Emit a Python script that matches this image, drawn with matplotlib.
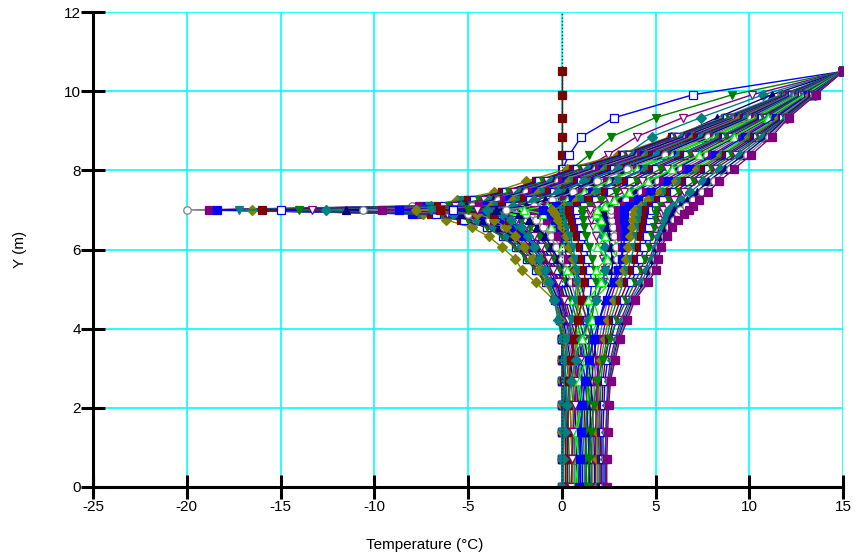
import matplotlib
matplotlib.use('Agg')
import matplotlib.pyplot as plt

# node heights (m), same for every profile
depth = [0, 0.72, 1.38, 2.06, 2.68, 3.22, 3.74, 4.22, 4.72, 5.17, 5.47, 5.77, 6.06, 6.33,
         6.56, 6.75, 6.9, 7.0, 7.1, 7.25, 7.45, 7.72, 8.04, 8.39, 8.85, 9.33, 9.91, 10.5]

# temperature profiles (deg C)
prof_00 = [0, 0, 0, 0, 0, 0, 0, 0, 0, 0, 0, 0, 0, 0, 0, 0, 0, 0, 0, 0, 0, 0, 0, 0, 0, 0, 0, 0]
prof_01 = [0, 0, 0, 0, 0, 0, 0, 0, 0, 0, 0, 0, 0, 0, 0, 0, 0, 0, 0, 0, 0, 0,
           0.05, 0.4, 1.05, 2.8, 7.0, 15]
prof_02 = [0, 0, 0, 0, 0, 0, 0, 0, 0, 0, 0, 0, 0, 0, 0, 0, 0, 0, 0, 0, 0,
           0.1, 0.55, 1.45, 2.65, 5.0, 9.1, 15]
prof_03 = [0, 0, 0, 0, 0, 0, 0, 0, 0, 0, 0, 0, 0, 0, 0, 0, 0, 0, 0,
           0.05, 0.15, 0.45, 1.2, 2.45, 4.0, 6.45, 10.15, 15]
prof_04 = [0, 0, 0, 0, 0, 0, 0, 0, 0, 0, 0, 0, 0, 0, 0, 0, 0, 0,
           0.05, 0.1, 0.3, 0.9, 2.0, 3.4, 4.8, 7.4, 10.75, 15]
prof_05 = [0, 0, 0, 0, 0, 0, 0, 0, 0, 0, 0, 0, 0, 0, 0, 0, 0,
           0, 0.1, 0.3, 0.7, 1.5, 2.8, 4.4, 6.1, 8.3, 11.2, 15]
prof_06 = [0, 0, 0, 0, 0, 0, 0, 0, 0, 0, 0, 0, -0.1, -0.4, -1.2, -3.0, -7.8,
           -20.0, -8.0, -3.2, -1.0, 0.1, 1.3, 3.3, 5.9, 8.6, 11.7, 15]
prof_07 = [0, 0, 0, 0, 0, 0, 0, 0, 0, -0.05, -0.1, -0.3, -0.6, -1.2, -2.4, -4.4, -7.6,
           -18.8, -7.6, -4.6, -2.0, -0.3, 1.3, 3.4, 6.0, 8.7, 11.8, 15]
prof_08 = [1.2, 1.4, 1.2, 1.5, 1.3, 1.7, 1.4, 2.0, 1.7, 2.6, 2.2, 3.0, 2.6, 3.4, 3.0, 3.7, 3.3,
           3.6, 3.9, 4.3, 5.0, 5.9, 7.0, 8.3, 9.9, 11.5, 13.2, 15]
prof_09 = [0, 0, 0, 0, 0, 0, 0, 0, -0.05, -0.2, -0.4, -0.7, -1.2, -2.0, -3.2, -5.2, -8.0,
           -18.4, -7.2, -5.0, -2.8, -0.8, 1.1, 3.3, 6.0, 8.8, 11.8, 15]
prof_10 = [0, 0, 0, 0, 0, 0, 0, -0.05, -0.4, -1.4, -2.1, -2.5, -3.2, -3.9, -4.8, -6.2, -7.4,
           -16.5, -7.0, -5.6, -3.6, -1.9, 0.3, 3.0, 5.8, 8.7, 11.8, 15]
prof_11 = [0, 0, 0, 0, 0, 0, 0, -0.02, -0.15, -0.6, -1.0, -1.4, -2.0, -2.8, -3.8, -5.5, -7.6,
           -17.2, -7.1, -5.3, -3.2, -1.3, 0.7, 3.2, 5.9, 8.7, 11.8, 15]
prof_12 = [0.2, 0.2, 0.2, 0.15, 0.1, 0.05, 0.0, -0.1, -0.3, -0.8, -1.3, -1.8, -2.4, -3.1, -4.0, -5.4, -7.0,
           -16.0, -6.6, -5.0, -3.2, -1.4, 0.6, 3.2, 5.9, 8.8, 11.9, 15]
prof_13 = [0.3, 0.3, 0.28, 0.22, 0.18, 0.1, 0.02, -0.1, -0.35, -0.85, -1.35, -1.85, -2.45, -3.15, -4.0, -5.2, -6.7,
           -15.0, -6.3, -4.7, -3.0, -1.2, 0.8, 3.3, 6.0, 8.8, 11.9, 15]
prof_14 = [0.4, 0.4, 0.35, 0.3, 0.25, 0.15, 0.05, -0.1, -0.4, -0.9, -1.4, -1.9, -2.5, -3.2, -4.0, -5.0, -6.4,
           -14.0, -6.0, -4.4, -2.8, -1.0, 1.0, 3.5, 6.1, 8.9, 11.9, 15]
prof_15 = [0.55, 0.55, 0.5, 0.45, 0.38, 0.25, 0.12, -0.05, -0.35, -0.8, -1.25, -1.75, -2.35, -3.05, -3.8, -4.75, -6.1,
           -13.3, -5.7, -4.15, -2.55, -0.8, 1.2, 3.6, 6.2, 9.0, 12.0, 15]
prof_16 = [0.7, 0.7, 0.65, 0.6, 0.5, 0.35, 0.2, 0.0, -0.3, -0.7, -1.1, -1.6, -2.2, -2.9, -3.6, -4.5, -5.8,
           -12.6, -5.4, -3.9, -2.3, -0.6, 1.4, 3.8, 6.4, 9.1, 12.0, 15]
prof_17 = [0.8, 0.8, 0.75, 0.7, 0.6, 0.45, 0.28, 0.08, -0.2, -0.6, -1.0, -1.45, -2.0, -2.65, -3.35, -4.2, -5.4,
           -11.5, -5.1, -3.65, -2.1, -0.4, 1.6, 3.9, 6.5, 9.2, 12.0, 15]
prof_18 = [0.9, 0.9, 0.85, 0.8, 0.7, 0.55, 0.35, 0.15, -0.1, -0.5, -0.9, -1.3, -1.8, -2.4, -3.1, -3.9, -5.0,
           -10.6, -4.8, -3.4, -1.9, -0.2, 1.8, 4.1, 6.7, 9.3, 12.1, 15]
prof_19 = [1.0, 1.0, 0.95, 0.9, 0.8, 0.65, 0.45, 0.22, -0.05, -0.4, -0.75, -1.15, -1.65, -2.2, -2.85, -3.6, -4.6,
           -9.6, -4.4, -3.1, -1.6, 0.0, 2.0, 4.2, 6.8, 9.4, 12.1, 15]
prof_20 = [1.5, 1.7, 1.4, 1.8, 1.3, 1.7, 1.1, 1.5, 0.8, 1.3, 0.4, 0.9, -0.1, 0.5, -0.8, 0.0, -1.3,
           -2.5, -1.1, 0.0, 1.0, 2.3, 3.8, 5.7, 8.0, 10.2, 12.6, 15]
prof_21 = [1.1, 1.1, 1.05, 1.0, 0.9, 0.75, 0.55, 0.3, 0.0, -0.3, -0.6, -1.0, -1.5, -2.0, -2.6, -3.3, -4.3,
           -8.7, -4.0, -2.8, -1.4, 0.2, 2.2, 4.4, 6.9, 9.5, 12.2, 15]
prof_22 = [0.5, 0.55, 0.5, 0.45, 0.4, 0.3, 0.15, -0.1, -0.4, -0.8, -1.2, -1.6, -2.0, -2.5, -3.0, -3.6, -4.5,
           -7.8, -3.8, -2.6, -1.2, 0.4, 2.3, 4.5, 7.0, 9.5, 12.2, 15]
prof_23 = [1.2, 1.2, 1.15, 1.1, 1.0, 0.85, 0.65, 0.4, 0.1, -0.2, -0.5, -0.9, -1.35, -1.85, -2.4, -3.0, -3.9,
           -7.0, -3.5, -2.3, -1.0, 0.6, 2.4, 4.6, 7.1, 9.6, 12.2, 15]
prof_24 = [1.3, 1.3, 1.25, 1.2, 1.1, 0.95, 0.75, 0.5, 0.2, -0.1, -0.4, -0.8, -1.2, -1.7, -2.2, -2.8, -3.6,
           -6.5, -3.2, -2.0, -0.7, 0.8, 2.6, 4.8, 7.2, 9.7, 12.3, 15]
prof_25 = [1.45, 1.45, 1.4, 1.35, 1.25, 1.1, 0.9, 0.65, 0.35, 0.05, -0.25, -0.6, -1.0, -1.45, -1.95, -2.5, -3.2,
           -5.8, -2.8, -1.7, -0.4, 1.0, 2.8, 5.0, 7.4, 9.8, 12.3, 15]
prof_26 = [1.6, 1.6, 1.55, 1.5, 1.4, 1.25, 1.05, 0.8, 0.5, 0.2, -0.1, -0.4, -0.8, -1.2, -1.7, -2.2, -2.9,
           -5.0, -2.4, -1.3, -0.1, 1.3, 3.0, 5.1, 7.5, 9.9, 12.4, 15]
prof_27 = [0.9, 0.9, 0.88, 0.85, 0.8, 0.7, 0.55, 0.35, 0.1, -0.2, -0.45, -0.75, -1.1, -1.5, -1.95, -2.45, -3.0,
           -4.5, -2.5, -1.4, -0.2, 1.2, 3.0, 5.1, 7.5, 9.9, 12.4, 15]
prof_28 = [0.3, 0.3, 0.3, 0.25, 0.2, 0.1, 0.0, -0.2, -0.4, -0.7, -0.9, -1.2, -1.5, -1.8, -2.2, -2.7, -3.2,
           -4.0, -2.6, -1.5, -0.2, 1.2, 3.0, 5.1, 7.5, 9.9, 12.4, 15]
prof_29 = [1.75, 1.75, 1.7, 1.65, 1.55, 1.4, 1.2, 0.95, 0.65, 0.35, 0.1, -0.2, -0.55, -0.9, -1.3, -1.75, -2.3,
           -3.5, -1.9, -0.9, 0.3, 1.6, 3.3, 5.3, 7.6, 10.0, 12.5, 15]
prof_30 = [1.9, 1.9, 1.85, 1.8, 1.7, 1.55, 1.35, 1.1, 0.8, 0.5, 0.25, 0.0, -0.3, -0.6, -1.0, -1.4, -1.9,
           -3.0, -1.5, -0.5, 0.6, 1.9, 3.5, 5.5, 7.8, 10.1, 12.5, 15]
prof_31 = [2.0, 2.0, 1.95, 1.9, 1.85, 1.72, 1.55, 1.32, 1.05, 0.78, 0.55, 0.32, 0.08, -0.2, -0.5, -0.8, -1.1,
           -1.5, -0.8, 0.1, 1.1, 2.4, 4.0, 5.9, 8.1, 10.3, 12.6, 15]
prof_32 = [0.8, 0.9, 0.7, 1.0, 0.8, 1.1, 0.7, 1.2, 0.6, 1.2, 0.3, 1.0, 0.0, 0.8, -0.6, 0.3, -1.0,
           -2.0, -0.8, 0.3, 1.2, 2.5, 4.0, 5.9, 8.1, 10.3, 12.6, 15]
prof_33 = [2.1, 2.1, 2.05, 2.0, 1.95, 1.85, 1.7, 1.5, 1.25, 1.0, 0.8, 0.6, 0.4, 0.15, -0.1, -0.35, -0.6,
           -1.0, -0.3, 0.6, 1.6, 2.9, 4.4, 6.2, 8.4, 10.5, 12.7, 15]
prof_34 = [0.6, 0.6, 0.6, 0.62, 0.65, 0.7, 0.75, 0.8, 0.85, 0.85, 0.75, 0.6, 0.4, 0.2, 0.0, -0.2, -0.35,
           -0.5, 0.1, 0.8, 1.8, 3.0, 4.5, 6.3, 8.4, 10.5, 12.7, 15]
prof_35 = [0.1, 0.1, 0.1, 0.1, 0.15, 0.2, 0.3, 0.5, 0.7, 0.8, 0.8, 0.7, 0.6, 0.45, 0.3, 0.15, 0.05,
           0.0, 0.4, 1.0, 1.9, 3.0, 4.5, 6.3, 8.4, 10.5, 12.7, 15]
prof_36 = [0.3, 0.3, 0.32, 0.35, 0.4, 0.5, 0.65, 0.85, 1.1, 1.25, 1.2, 1.1, 0.95, 0.8, 0.65, 0.52, 0.45,
           0.4, 0.8, 1.4, 2.3, 3.4, 4.8, 6.5, 8.6, 10.6, 12.8, 15]
prof_37 = [1.0, 1.0, 1.0, 1.0, 1.05, 1.1, 1.2, 1.35, 1.5, 1.6, 1.5, 1.4, 1.3, 1.15, 1.0, 0.9, 0.85,
           0.8, 1.2, 1.8, 2.6, 3.7, 5.0, 6.7, 8.7, 10.7, 12.8, 15]
prof_38 = [1.3, 1.3, 1.3, 1.32, 1.35, 1.4, 1.5, 1.6, 1.75, 1.85, 1.75, 1.6, 1.45, 1.3, 1.2, 1.15, 1.1,
           1.1, 1.5, 2.1, 2.9, 4.0, 5.3, 6.9, 8.8, 10.8, 12.85, 15]
prof_39 = [0.5, 0.55, 0.6, 0.7, 0.8, 0.95, 1.15, 1.4, 1.8, 2.2, 2.3, 2.2, 2.0, 1.8, 1.65, 1.55, 1.5,
           1.5, 1.9, 2.5, 3.3, 4.3, 5.6, 7.1, 9.0, 10.9, 12.9, 15]
prof_40 = [0.0, 0.05, 0.15, 0.3, 0.5, 0.75, 1.05, 1.4, 1.8, 2.15, 2.3, 2.35, 2.3, 2.2, 2.1, 2.05, 2.0,
           2.0, 2.4, 2.95, 3.75, 4.75, 6.0, 7.4, 9.2, 11.0, 12.95, 15]
prof_41 = [1.5, 1.5, 1.5, 1.55, 1.6, 1.7, 1.85, 2.0, 2.3, 2.6, 2.7, 2.7, 2.6, 2.5, 2.4, 2.3, 2.25,
           2.2, 2.6, 3.1, 3.9, 4.9, 6.1, 7.5, 9.3, 11.1, 13.0, 15]
prof_42 = [1.65, 1.65, 1.65, 1.7, 1.75, 1.85, 2.0, 2.2, 2.45, 2.75, 2.9, 2.95, 2.9, 2.8, 2.75, 2.68, 2.62,
           2.6, 2.95, 3.45, 4.2, 5.15, 6.35, 7.75, 9.45, 11.2, 13.05, 15]
prof_43 = [1.8, 1.8, 1.8, 1.85, 1.9, 2.0, 2.15, 2.35, 2.6, 2.9, 3.1, 3.2, 3.2, 3.15, 3.1, 3.05, 3.0,
           3.0, 3.3, 3.8, 4.5, 5.4, 6.6, 8.0, 9.6, 11.3, 13.1, 15]
prof_44 = [0.7, 0.9, 0.8, 1.1, 0.9, 1.3, 1.1, 1.6, 1.4, 2.1, 1.8, 2.4, 1.9, 2.3, 1.8, 2.1, 1.8,
           1.9, 2.3, 2.8, 3.6, 4.6, 5.9, 7.3, 9.2, 11.0, 12.95, 15]
prof_45 = [0.9, 0.95, 1.0, 1.1, 1.25, 1.45, 1.7, 2.0, 2.4, 2.8, 3.0, 3.2, 3.3, 3.35, 3.35, 3.32, 3.3,
           3.3, 3.6, 4.05, 4.75, 5.65, 6.8, 8.15, 9.75, 11.4, 13.15, 15]
prof_46 = [1.9, 1.9, 1.9, 1.95, 2.0, 2.1, 2.28, 2.48, 2.78, 3.1, 3.3, 3.45, 3.55, 3.65, 3.75, 3.82, 3.87,
           3.9, 4.2, 4.6, 5.25, 6.1, 7.2, 8.5, 10.0, 11.6, 13.25, 15]
prof_47 = [2.0, 2.0, 2.0, 2.05, 2.1, 2.2, 2.4, 2.6, 2.95, 3.3, 3.5, 3.7, 3.85, 3.95, 4.05, 4.1, 4.15,
           4.2, 4.5, 4.9, 5.5, 6.3, 7.4, 8.6, 10.1, 11.7, 13.3, 15]
prof_48 = [2.1, 2.1, 2.1, 2.15, 2.2, 2.32, 2.52, 2.75, 3.12, 3.5, 3.75, 3.95, 4.12, 4.25, 4.35, 4.42, 4.47,
           4.5, 4.75, 5.15, 5.75, 6.55, 7.6, 8.75, 10.25, 11.75, 13.35, 15]
prof_49 = [2.2, 2.2, 2.2, 2.25, 2.3, 2.45, 2.65, 2.9, 3.3, 3.7, 4.0, 4.2, 4.4, 4.55, 4.65, 4.72, 4.78,
           4.8, 5.0, 5.4, 6.0, 6.8, 7.8, 8.9, 10.4, 11.8, 13.4, 15]
prof_50 = [1.4, 1.45, 1.55, 1.7, 1.9, 2.2, 2.55, 2.95, 3.45, 3.9, 4.2, 4.45, 4.65, 4.8, 4.92, 5.0, 5.05,
           5.1, 5.3, 5.7, 6.25, 7.05, 8.0, 9.1, 10.5, 11.9, 13.45, 15]
prof_51 = [2.3, 2.3, 2.35, 2.4, 2.45, 2.6, 2.85, 3.15, 3.6, 4.1, 4.4, 4.7, 4.9, 5.05, 5.2, 5.3, 5.35,
           5.4, 5.6, 6.0, 6.5, 7.3, 8.2, 9.3, 10.6, 12.0, 13.5, 15]
prof_52 = [2.32, 2.32, 2.37, 2.42, 2.5, 2.68, 2.92, 3.25, 3.7, 4.25, 4.55, 4.8, 5.0, 5.2, 5.38, 5.52, 5.62,
           5.7, 5.95, 6.35, 6.85, 7.55, 8.45, 9.5, 10.75, 12.0, 13.5, 15]
prof_53 = [2.35, 2.35, 2.4, 2.45, 2.55, 2.75, 3.0, 3.35, 3.8, 4.4, 4.7, 4.9, 5.1, 5.35, 5.55, 5.75, 5.9,
           6.0, 6.3, 6.7, 7.2, 7.8, 8.7, 9.7, 10.9, 12.0, 13.5, 15]
prof_54 = [2.38, 2.38, 2.42, 2.48, 2.58, 2.8, 3.05, 3.42, 3.85, 4.5, 4.85, 5.02, 5.2, 5.48, 5.72, 5.98, 6.2,
           6.3, 6.6, 7.0, 7.5, 8.1, 8.95, 9.9, 11.05, 12.05, 13.52, 15]
prof_55 = [2.4, 2.4, 2.45, 2.5, 2.6, 2.85, 3.1, 3.5, 3.9, 4.6, 5.0, 5.15, 5.3, 5.6, 5.9, 6.2, 6.5,
           6.8, 7.0, 7.3, 7.8, 8.4, 9.2, 10.1, 11.2, 12.1, 13.55, 15]

profiles = [prof_00, prof_01, prof_02, prof_03, prof_04, prof_05, prof_06, prof_07,
            prof_08, prof_09, prof_10, prof_11, prof_12, prof_13, prof_14, prof_15,
            prof_16, prof_17, prof_18, prof_19, prof_20, prof_21, prof_22, prof_23,
            prof_24, prof_25, prof_26, prof_27, prof_28, prof_29, prof_30, prof_31,
            prof_32, prof_33, prof_34, prof_35, prof_36, prof_37, prof_38, prof_39,
            prof_40, prof_41, prof_42, prof_43, prof_44, prof_45, prof_46, prof_47,
            prof_48, prof_49, prof_50, prof_51, prof_52, prof_53, prof_54, prof_55]

# colour, marker, filled  (cycled like the original software)
styles = [('#800000', 's', True), ('#0000FF', 's', False), ('#008000', 'v', True),
          ('#800080', 'v', False), ('#008080', 'D', True), ('#000080', '^', True),
          ('#808080', 'o', False), ('#800080', 's', True), ('#00FF00', '^', False),
          ('#0000FF', 's', True), ('#808000', 'D', True), ('#008080', 'v', True)]

plt.rcParams['font.family'] = ['Liberation Sans Narrow', 'Liberation Sans', 'DejaVu Sans']
plt.rcParams['axes.unicode_minus'] = False

fig = plt.figure(figsize=(8.55, 5.54), dpi=100)
ax = fig.add_axes([93 / 855, 1 - 487 / 554, 750 / 855, 475 / 554])

for i, temps in enumerate(profiles):
    col, mk, filled = styles[i % len(styles)]
    ms = 4.6 if mk == 'D' else 5.4
    ax.plot(temps, depth, color=col, lw=1.0, marker=mk, ms=ms,
            mfc=col if filled else 'white', mec=col, mew=0.9, zorder=3)

ax.axvline(0, color='#004848', ls=(0, (1, 1.5)), lw=1, zorder=4)

ax.set_xlim(-25, 15)
ax.set_ylim(0, 12)
ax.set_xticks(range(-25, 16, 5))
ax.set_yticks(range(0, 13, 2))
ax.grid(True, color='#00FFFF', lw=1.2)
ax.set_axisbelow(True)

for s in ['top', 'right']:
    ax.spines[s].set_visible(False)
for s in ['left', 'bottom']:
    ax.spines[s].set_linewidth(2.2)
    ax.spines[s].set_zorder(5)

ax.tick_params(axis='both', direction='inout', length=17, width=2.2, labelsize=11)
ax.tick_params(axis='x', pad=1)
ax.tick_params(axis='y', pad=0)

ax.set_xlabel('Temperature (°C)', fontsize=11)
ax.xaxis.set_label_coords((425 - 93) / 750, -51 / 475)
ax.set_ylabel('Y (m)', fontsize=11)
ax.yaxis.set_label_coords((27 - 93) / 750, 0.5)

fig.savefig('out.png', dpi=100)
